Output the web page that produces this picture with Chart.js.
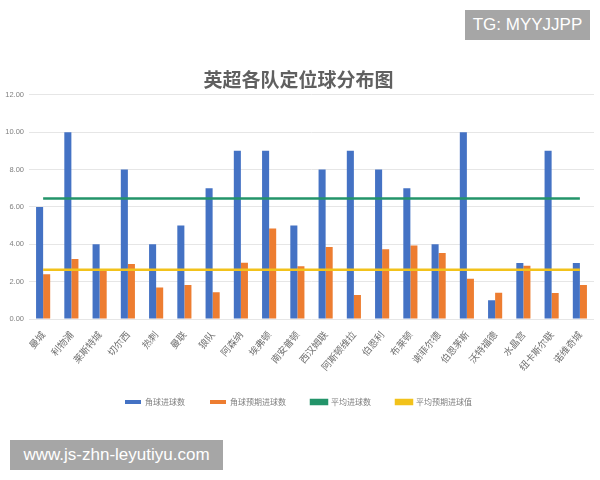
<!DOCTYPE html>
<html>
<head>
<meta charset="utf-8">
<script src="https://cdn.jsdelivr.net/npm/chart.js@4"></script>
<style>
  body { margin: 0; background: #fff; }
  #wrap { position: relative; width: 600px; height: 480px; }
  #chart { position: absolute; left: 0; top: 0; }
  .tag {
    position: absolute; background: #a6a6a6; color: #fff;
    font-family: "Liberation Sans", Arial, sans-serif; font-size: 17px;
    line-height: 30px; text-align: center;
  }
</style>
</head>
<body>
<div id="wrap">
  <canvas id="chart" width="600" height="480"></canvas>
  <div class="tag" style="left:465px;top:10px;width:125px;height:30px;">TG: MYYJJPP</div>
  <div class="tag" style="left:10px;top:440px;width:213px;height:30px;">www.js-zhn-leyutiyu.com</div>
</div>
<script>
// teams
const teams = ["曼城","利物浦","莱斯特城","切尔西","热刺","曼联","狼队","阿森纳","埃弗顿","南安普顿",
  "西汉姆联","阿斯顿维拉","伯恩利","布莱顿","谢菲尔德","伯恩茅斯","沃特福德","水晶宫","纽卡斯尔联","诺维奇城"];

// 角球进球数
const cornerGoals = [6,10,4,8,4,5,7,9,9,5,8,9,8,7,4,10,1,3,9,3];
// 角球预期进球数
const cornerXG = [2.39,3.21,2.67,2.94,1.69,1.82,1.43,3.01,4.85,2.82,3.85,1.28,3.73,3.94,3.53,2.16,1.41,2.85,1.39,1.82];
// average lines
const avgGoals = [6.45,6.45,6.45,6.45,6.45,6.45,6.45,6.45,6.45,6.45,6.45,6.45,6.45,6.45,6.45,6.45,6.45,6.45,6.45,6.45];
const avgXG = [2.63,2.63,2.63,2.63,2.63,2.63,2.63,2.63,2.63,2.63,2.63,2.63,2.63,2.63,2.63,2.63,2.63,2.63,2.63,2.63];

const yTicks = [0,2,4,6,8,10,12];

const cjk = '"Noto Sans CJK SC", "Noto Sans", sans-serif';

const ctx = document.getElementById('chart').getContext('2d');
const chart = new Chart(ctx, {
  data: {
    labels: teams,
    datasets: [
      {
        type: 'bar', label: '角球进球数', data: cornerGoals,
        backgroundColor: '#4472c4', order: 2,
        categoryPercentage: 0.5, barPercentage: 1.0
      },
      {
        type: 'bar', label: '角球预期进球数', data: cornerXG,
        backgroundColor: '#ed7d31', order: 2,
        categoryPercentage: 0.5, barPercentage: 1.0
      },
      {
        type: 'line', label: '平均进球数', data: avgGoals,
        borderColor: '#23946a', backgroundColor: '#23946a',
        borderWidth: 2.5, pointRadius: 0, order: 1
      },
      {
        type: 'line', label: '平均预期进球值', data: avgXG,
        borderColor: '#f2c21b', backgroundColor: '#f2c21b',
        borderWidth: 2.5, pointRadius: 0, order: 1
      }
    ]
  },
  options: {
    responsive: false,
    animation: false,
    layout: { padding: { top: 68, left: 3, right: 6, bottom: 64 } },
    plugins: {
      tooltip: { enabled: false },
      title: {
        display: true,
        text: '英超各队定位球分布图',
        color: '#606060',
        font: { family: cjk, size: 19, weight: 'bold' },
        padding: { top: 0, bottom: 4 }
      },
      legend: {
        position: 'bottom',
        labels: {
          sort: (a, b) => a.datasetIndex - b.datasetIndex,
          boxWidth: 16, boxHeight: 4, padding: 25,
          color: '#7f7f7f',
          font: { family: cjk, size: 8 }
        }
      }
    },
    scales: {
      x: {
        grid: { display: false },
        border: { display: false },
        ticks: {
          color: '#6f6f6f',
          font: { family: cjk, size: 9.5 },
          minRotation: 50, maxRotation: 50, padding: 2
        },
        afterFit: (scale) => { scale.height = 54; }
      },
      y: {
        min: 0, max: 12,
        afterBuildTicks: (scale) => { scale.ticks = yTicks.map(v => ({ value: v })); },
        grid: { color: '#e6e6e6', drawTicks: false },
        border: { display: false },
        ticks: {
          color: '#7f7f7f',
          font: { family: '"Liberation Sans", sans-serif', size: 7.5 },
          padding: 5,
          callback: (v) => Number(v).toFixed(2)
        },
        afterFit: (scale) => { scale.width = 26; }
      }
    }
  }
});
</script>
</body>
</html>
